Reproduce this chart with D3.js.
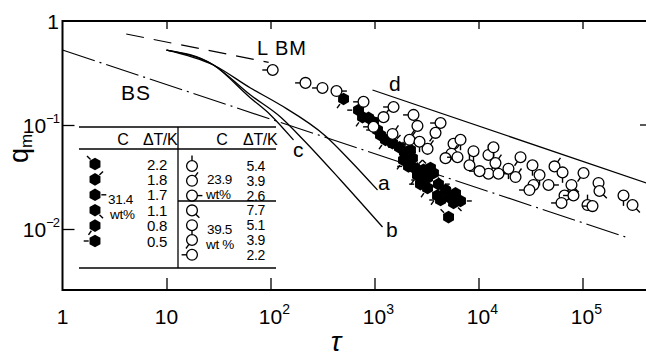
<!DOCTYPE html>
<html>
<head>
<meta charset="utf-8">
<script src="https://cdn.jsdelivr.net/npm/d3@7"></script>
<style>
  html, body { margin: 0; padding: 0; background: #fff; }
  svg { display: block; font-family: "Liberation Sans", Arial, sans-serif; }
</style>
</head>
<body>
<div id="chart"></div>
<script>
// axis ticks
const xTickValues = [1, 10, 100, 1e3, 1e4, 1e5];
const xTickLabels = [['1', ''], ['10', ''], ['10', '2'], ['10', '3'], ['10', '4'], ['10', '5']];
const yTickValues = [1, 0.1, 0.01];
const yTickLabels = [['1', ''], ['10', '−1'], ['10', '−2']];

// theory lines [tau, q]
const lineBS = [[1, 0.526], [2.59e5, 0.00838]];
const lineLBM = [[4.1, 0.75], [96, 0.40]];
const lineD = [[957, 0.217], [4.12e5, 0.0277]];
const curveA = [[10, 0.526], [28.3, 0.3775], [64.2, 0.227], [124.8, 0.1557], [338, 0.0784], [588, 0.0451], [1069, 0.0237]];
const curveB = [[10, 0.526], [28.3, 0.3775], [64.2, 0.194], [124.8, 0.1194], [207.6, 0.0718], [471, 0.0296], [1194, 0.01045]];
const curveC = [[10, 0.526], [28.3, 0.3775], [64.2, 0.182], [100, 0.125], [166.3, 0.0718]];

// legend: ΔT/K per concentration
const legend314 = [2.2, 1.8, 1.7, 1.1, 0.8, 0.5];
const legend239 = [5.4, 3.9, 2.6];
const legend395 = [7.7, 5.1, 3.9, 2.2];

// measurements [tau, q, dT]
const filled314 = [
  [504, 0.178, 0.8], [702, 0.139, 0.5], [767, 0.119, 0.8], [876, 0.117, 1.7], [978, 0.107, 2.2],
  [1069, 0.0895, 0.5], [1142, 0.080, 1.1], [1276, 0.072, 0.8], [1490, 0.067, 1.8], [1738, 0.061, 0.5],
  [1941, 0.055, 1.7], [2218, 0.0575, 2.2], [1900, 0.046, 0.8], [2317, 0.048, 1.1], [2123, 0.040, 0.5],
  [2426, 0.0386, 1.8], [2958, 0.037, 1.7], [3453, 0.0386, 2.2], [3690, 0.0345, 1.1], [2588, 0.033, 0.8],
  [2897, 0.0296, 0.5], [3236, 0.031, 1.8], [2767, 0.027, 0.5], [3236, 0.0248, 0.8], [4121, 0.027, 1.7],
  [4817, 0.0237, 1.1], [4036, 0.021, 0.8], [5152, 0.0203, 1.8], [6012, 0.022, 2.2], [6714, 0.0186, 1.7],
  [5754, 0.0178, 1.1], [5152, 0.013, 2.2], [4315, 0.019, 0.5]
];
const open239 = [
  [431, 0.212, 2.6], [1221, 0.119, 3.9], [1490, 0.082, 3.9], [2172, 0.072, 3.9], [3236, 0.059, 3.9],
  [5754, 0.066, 3.9], [5495, 0.053, 3.9], [4817, 0.048, 2.6], [8185, 0.041, 5.4], [12470, 0.034, 3.9],
  [12470, 0.0515, 5.4], [14560, 0.043, 3.9], [15560, 0.034, 2.6], [22700, 0.0316, 3.9], [33810, 0.0265, 3.9],
  [47100, 0.0265, 2.6], [53830, 0.040, 3.9], [67140, 0.021, 3.9], [111700, 0.017, 5.4]
];
const open395 = [
  [105, 0.338, 2.2], [217, 0.254, 2.2], [316, 0.227, 2.2], [784, 0.167, 2.2], [1524, 0.149, 2.2],
  [978, 0.096, 2.2], [2371, 0.125, 2.2], [2588, 0.098, 3.9], [2710, 0.069, 5.1], [4315, 0.1045, 2.2],
  [3861, 0.084, 3.9], [6714, 0.072, 5.1], [6281, 0.049, 2.2], [8954, 0.056, 5.1], [10230, 0.036, 2.2],
  [13930, 0.061, 5.1], [19410, 0.038, 5.1], [25350, 0.049, 3.9], [33040, 0.041, 5.1], [38620, 0.033, 5.1],
  [30900, 0.0237, 2.2], [64270, 0.035, 5.1], [102300, 0.0345, 3.9], [78340, 0.0265, 7.7], [81850, 0.021, 2.2],
  [62810, 0.0178, 2.2], [124800, 0.0166, 2.2], [142600, 0.0277, 5.1], [145600, 0.0232, 7.7],
  [247800, 0.021, 5.1], [302600, 0.017, 7.7]
];

// tail direction (degrees) for each ΔT
const tail314 = { 2.2: 135, 1.8: 45, 1.7: 0, 1.1: 315, 0.8: 235, 0.5: 180 };
const tail239 = { 5.4: 90, 3.9: 55, 2.6: 0 };
const tail395 = { 7.7: 315, 5.1: 270, 3.9: 235, 2.2: 180 };

const width = 646, height = 358;
const frame = { left: 62.5, top: 21, right: 646, bottom: 290 };

const svg = d3.select('#chart').append('svg')
  .attr('width', width).attr('height', height)
  .attr('viewBox', `0 0 ${width} ${height}`);

const x = d3.scaleLog().domain([1, 1e5]).range([62.5, 582.5]);
const y = d3.scaleLog().domain([1, 0.01]).range([21, 229]);

// frame
svg.append('path')
  .attr('d', `M${frame.right},${frame.top}H${frame.left}V${frame.bottom}H${frame.right}`)
  .attr('fill', 'none').attr('stroke', '#000').attr('stroke-width', 2);

const tickStyle = g => {
  g.select('.domain').remove();
  g.selectAll('.tick line').attr('stroke', '#000').attr('stroke-width', 1.3);
  g.selectAll('.tick text').remove();
};

svg.append('g')
  .attr('transform', `translate(0,${frame.bottom})`)
  .call(d3.axisBottom(x).tickValues(xTickValues.slice(1)).tickSize(-12))
  .call(tickStyle);

svg.append('g')
  .attr('transform', `translate(0,${frame.top})`)
  .call(d3.axisTop(x).tickValues(xTickValues.slice(1)).tickSize(-8))
  .call(tickStyle);

svg.append('g')
  .attr('transform', `translate(${frame.left},0)`)
  .call(d3.axisLeft(y).tickValues(yTickValues.slice(1)).tickSize(-12))
  .call(tickStyle);

// right edge tick at 0.1
svg.append('line')
  .attr('x1', 640).attr('x2', 646).attr('y1', y(0.1)).attr('y2', y(0.1))
  .attr('stroke', '#000').attr('stroke-width', 1.3);

// x tick labels
xTickValues.forEach((v, i) => {
  const [base, exp] = xTickLabels[i];
  const t = svg.append('text')
    .attr('x', x(v)).attr('y', 324)
    .attr('text-anchor', 'middle')
    .attr('font-size', 21)
    .text(base);
  if (exp) {
    const w = t.node().getComputedTextLength();
    svg.append('text')
      .attr('x', x(v) + w / 2).attr('y', 314)
      .attr('font-size', 14)
      .text(exp);
  }
});

// y tick labels
yTickValues.forEach((v, i) => {
  const [base, exp] = yTickLabels[i];
  const t = svg.append('text')
    .attr('x', 59).attr('y', y(v) + 8)
    .attr('text-anchor', 'end')
    .attr('font-size', 21);
  t.append('tspan').text(base);
  if (exp) {
    t.append('tspan').attr('font-size', 13).attr('dy', -10).attr('letter-spacing', -1).text(exp);
  }
});

// axis titles
const qLabel = svg.append('text')
  .attr('transform', 'translate(28,163) rotate(-90)')
  .attr('font-size', 27);
qLabel.append('tspan').text('q');
qLabel.append('tspan').attr('font-size', 17).attr('dy', 4).text('m');

svg.append('text')
  .attr('x', 336).attr('y', 351)
  .attr('text-anchor', 'middle')
  .attr('font-size', 28)
  .attr('font-style', 'italic')
  .text('τ');

// theory lines
const line = d3.line().x(d => x(d[0])).y(d => y(d[1]));
const smooth = d3.line().x(d => x(d[0])).y(d => y(d[1])).curve(d3.curveMonotoneX);

svg.append('path').datum(lineBS)
  .attr('d', line).attr('fill', 'none').attr('stroke', '#000').attr('stroke-width', 1.2)
  .attr('stroke-dasharray', '34,5,2,5');

svg.append('path').datum(lineLBM)
  .attr('d', line).attr('fill', 'none').attr('stroke', '#000').attr('stroke-width', 1.2)
  .attr('stroke-dasharray', '18,10');

svg.append('path').datum(lineD)
  .attr('d', line).attr('fill', 'none').attr('stroke', '#000').attr('stroke-width', 1.2);

[curveA, curveB, curveC].forEach(c => {
  svg.append('path').datum(c)
    .attr('d', smooth).attr('fill', 'none').attr('stroke', '#000').attr('stroke-width', 1.3);
});

// curve labels
const labels = [
  { t: 'L BM', x: 257, y: 55, s: 20 },
  { t: 'BS', x: 121, y: 100, s: 21 },
  { t: 'a', x: 378, y: 190, s: 21 },
  { t: 'b', x: 386, y: 237, s: 21 },
  { t: 'c', x: 293, y: 157, s: 21 },
  { t: 'd', x: 389, y: 91, s: 21 }
];
labels.forEach(l => {
  svg.append('text')
    .attr('x', l.x).attr('y', l.y)
    .attr('font-size', l.s)
    .attr('letter-spacing', l.t.length > 1 ? 1 : 0)
    .text(l.t);
});

// markers
function hexagon(cx, cy, r) {
  const pts = d3.range(6).map(i => {
    const a = i * Math.PI / 3 + Math.PI / 6;
    return [cx + r * Math.cos(a), cy + r * Math.sin(a)];
  });
  return d3.line()(pts) + 'Z';
}

function marker(g, cx, cy, filled, angle) {
  const r = filled ? 6.3 : 5.4;
  const a = angle * Math.PI / 180;
  if (filled) {
    g.append('path').attr('d', hexagon(cx, cy, r)).attr('fill', '#000');
  } else {
    g.append('circle')
      .attr('cx', cx).attr('cy', cy).attr('r', r)
      .attr('fill', '#fff').attr('stroke', '#000').attr('stroke-width', 1.3);
  }
  g.append('line')
    .attr('x1', cx + Math.cos(a) * r).attr('y1', cy - Math.sin(a) * r)
    .attr('x2', cx + Math.cos(a) * (r + 5)).attr('y2', cy - Math.sin(a) * (r + 5))
    .attr('stroke', '#000').attr('stroke-width', 1.4);
}

const pts = svg.append('g');
filled314.forEach(d => marker(pts, x(d[0]), y(d[1]), true, tail314[d[2]]));
open239.forEach(d => marker(pts, x(d[0]), y(d[1]), false, tail239[d[2]]));
open395.forEach(d => marker(pts, x(d[0]), y(d[1]), false, tail395[d[2]]));

// legend table
const tb = svg.append('g');
const hline = (x1, x2, yy) => tb.append('line')
  .attr('x1', x1).attr('x2', x2).attr('y1', yy).attr('y2', yy)
  .attr('stroke', '#000').attr('stroke-width', 1.3);
hline(79, 276, 127);
hline(79, 276, 149);
hline(178, 276, 201);
hline(79, 276, 268);
tb.append('line')
  .attr('x1', 178).attr('x2', 178).attr('y1', 127).attr('y2', 268)
  .attr('stroke', '#000').attr('stroke-width', 1.3);

const txt = (t, xx, yy, anchor, size) => tb.append('text')
  .attr('x', xx).attr('y', yy)
  .attr('font-size', size || 15)
  .attr('letter-spacing', -0.3)
  .attr('text-anchor', anchor || 'start')
  .text(t);

txt('C', 123, 145, 'middle', 16);
txt('ΔT/K', 143, 145, 'start', 16);
txt('C', 222, 145, 'middle', 16);
txt('ΔT/K', 243, 145, 'start', 16);

legend314.forEach((dt, i) => {
  const yy = 164 + i * 15.4;
  marker(tb, 95, yy, true, tail314[dt]);
  txt(dt.toFixed(1), 167, yy + 5.5, 'end');
});
txt('31.4', 108, 204, 'start', 13.5);
txt('wt%', 110, 219, 'start', 13.5);

const rightRows = [...legend239.map(v => [v, tail239[v]]), ...legend395.map(v => [v, tail395[v]])];
rightRows.forEach((r, i) => {
  const yy = 166 + i * 14.8;
  marker(tb, 192, yy, false, r[1]);
  txt(r[0].toFixed(1), 265, yy + 5, 'end', 14);
});
txt('23.9', 207, 184, 'start', 13.5);
txt('wt%', 206, 199, 'start', 13.5);
txt('39.5', 207, 234, 'start', 13.5);
txt('wt %', 206, 249, 'start', 13.5);
</script>
</body>
</html>
